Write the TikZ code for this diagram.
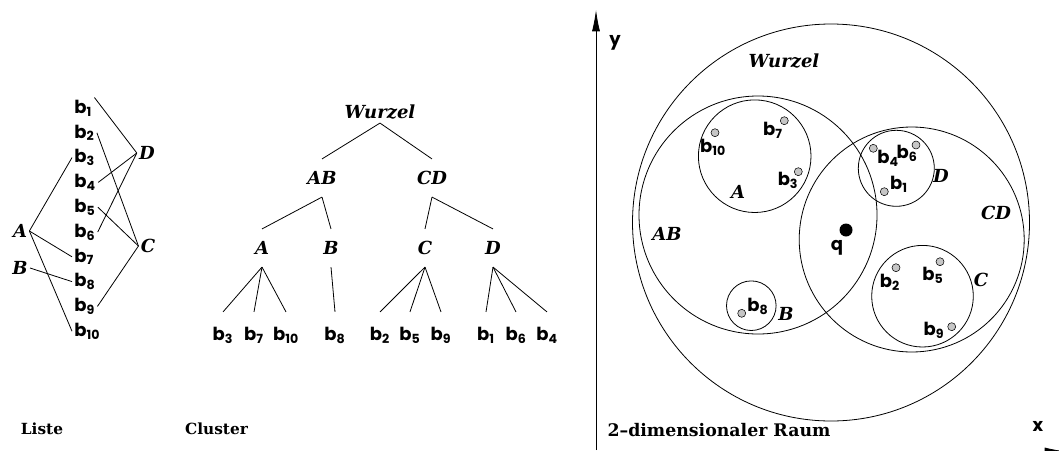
\documentclass[tikz,border=0pt]{standalone}
\usepackage{fontspec}
\newfontfamily\pfont{Poppins}
\newfontfamily\sfont{DejaVu Serif}
\usetikzlibrary{arrows.meta}
\newcommand{\bb}[1]{b\textsubscript{#1}}
\tikzset{
  blatt/.style={font=\pfont\bfseries\fontsize{13.5}{15}\selectfont, inner sep=1.5pt},
  marke/.style={font=\sfont\bfseries\itshape\fontsize{13.5}{15}\selectfont, inner sep=1.5pt},
  knoten/.style={marke, inner sep=0pt, minimum height=28pt},
  titel/.style={font=\sfont\bfseries\fontsize{11.5}{14}\selectfont, inner sep=0pt},
  punkt/.style={fill=gray!45, draw=black, line width=0.4pt},
  achse/.style={-{Latex[length=16pt, width=6pt]}, line width=0.6pt},
}
\begin{document}
\begin{tikzpicture}[x=0.75pt, y=-0.75pt, line width=0.6pt]
  \useasboundingbox (0,0) rectangle (1059,450);

  % Liste
  \node[blatt, anchor=west] (l1) at (72,108) {\bb{1}};
  \node[blatt, anchor=west] (l2) at (72,132.8) {\bb{2}};
  \node[blatt, anchor=west] (l3) at (72,157.6) {\bb{3}};
  \node[blatt, anchor=west] (l4) at (72,182.4) {\bb{4}};
  \node[blatt, anchor=west] (l5) at (72,207.2) {\bb{5}};
  \node[blatt, anchor=west] (l6) at (72,232) {\bb{6}};
  \node[blatt, anchor=west] (l7) at (72,256.8) {\bb{7}};
  \node[blatt, anchor=west] (l8) at (72,281.6) {\bb{8}};
  \node[blatt, anchor=west] (l9) at (72,306.4) {\bb{9}};
  \node[blatt, anchor=west] (l10) at (72,331.2) {\bb{10}};

  \node[marke] (lA) at (20,231) {A};
  \node[marke] (lB) at (20,268) {B};
  \node[marke] (lD) at (147,153) {D};
  \node[marke] (lC) at (148,246) {C};

  \draw (lA.east) -- (l3.west);
  \draw (lA.east) -- (l7.west);
  \draw (lA.east) -- (l10.west);
  \draw (lB.east) -- (l8.west);
  \draw (lD.west) -- (l1.north east);
  \draw (lD.west) -- (l4.east);
  \draw (lD.west) -- (l6.east);
  \draw (lC.west) -- (l2.east);
  \draw (lC.west) -- (l5.east);
  \draw (lC.west) -- (l9.east);

  \node[titel] (liste) at (42,429) {Liste};

  % Cluster
  \node[marke, inner sep=0pt, minimum height=16pt] (wurzel) at (380,112) {Wurzel};
  \node[knoten] (ab) at (322,178) {AB};
  \node[knoten] (cd) at (432,178) {CD};
  \node[knoten] (ka) at (262,248) {A};
  \node[knoten] (kb) at (331,248) {B};
  \node[knoten] (kc) at (425,248) {C};
  \node[knoten] (kd) at (493,248) {D};

  \node[blatt, minimum height=34pt] (c3) at (223,335) {\bb{3}};
  \node[blatt, minimum height=34pt] (c7) at (254,335) {\bb{7}};
  \node[blatt, minimum height=34pt] (c10) at (286,335) {\bb{10}};
  \node[blatt, minimum height=34pt] (c8) at (335,335) {\bb{8}};
  \node[blatt, minimum height=34pt] (c2) at (380,335) {\bb{2}};
  \node[blatt, minimum height=34pt] (c5) at (410,335) {\bb{5}};
  \node[blatt, minimum height=34pt] (c9) at (441,335) {\bb{9}};
  \node[blatt, minimum height=34pt] (c1) at (486,335) {\bb{1}};
  \node[blatt, minimum height=34pt] (c6) at (516,335) {\bb{6}};
  \node[blatt, minimum height=34pt] (c4) at (547,335) {\bb{4}};

  \draw (wurzel.south) -- (ab.north);
  \draw (wurzel.south) -- (cd.north);
  \draw (ab.south) -- (ka.north);
  \draw (ab.south) -- (kb.north);
  \draw (cd.south) -- (kc.north);
  \draw (cd.south) -- (kd.north);
  \draw (ka.south) -- (c3.north);
  \draw (ka.south) -- (c7.north);
  \draw (ka.south) -- (c10.north);
  \draw (kb.south) -- (c8.north);
  \draw (kc.south) -- (c2.north);
  \draw (kc.south) -- (c5.north);
  \draw (kc.south) -- (c9.north);
  \draw (kd.south) -- (c1.north);
  \draw (kd.south) -- (c6.north);
  \draw (kd.south) -- (c4.north);

  \node[titel] (cluster) at (216.5,429) {Cluster};

  % 2-dimensionaler Raum
  \coordinate (yfuss) at (596,450);
  \coordinate (yspitze) at (596,10);
  \coordinate (xfuss) at (596,451.5);
  \coordinate (xspitze) at (1066,451.5);
  \draw[achse] (yfuss) -- (yspitze);
  \draw[achse] (xfuss) -- (xspitze);
  \node[blatt] (ylab) at (615,43) {y};
  \node[blatt] (xlab) at (1038,426) {x};

  \draw (831,222.5) circle[radius=198.5];
  \draw (758,215) circle[radius=119];
  \draw (911.7,239.5) circle[radius=112.5];
  \draw (754.7,156.2) circle[radius=56.3];
  \draw (751.3,305.7) circle[radius=24.8];
  \draw (896.3,168.3) circle[radius=38];
  \draw (922.5,296.2) circle[radius=50.8];

  \node[marke] (rw) at (784,61) {Wurzel};
  \node[marke] (rab) at (667,234) {AB};
  \node[marke] (ra) at (738,192) {A};
  \node[marke] (rb) at (786,314) {B};
  \node[marke] (rd) at (941,176) {D};
  \node[marke] (rcd) at (996,213) {CD};
  \node[marke] (rc) at (981,280) {C};

  \filldraw[punkt] (715,132.7) circle[radius=4];
  \filldraw[punkt] (784.3,120.7) circle[radius=4];
  \filldraw[punkt] (798.3,171.7) circle[radius=4];
  \filldraw[punkt] (873.3,148.3) circle[radius=4];
  \filldraw[punkt] (916,145) circle[radius=4];
  \filldraw[punkt] (884.3,191.7) circle[radius=4];
  \filldraw[punkt] (896,267.7) circle[radius=4];
  \filldraw[punkt] (940,261.7) circle[radius=4];
  \filldraw[punkt] (951.7,326.7) circle[radius=4];
  \filldraw[punkt] (741.7,313.3) circle[radius=4];
  \fill (846,230) circle[radius=6.5];

  \node[blatt] (r10) at (713,147) {\bb{10}};
  \node[blatt] (r7) at (773,130) {\bb{7}};
  \node[blatt] (r3) at (788,180) {\bb{3}};
  \node[blatt] (r4) at (888,158) {\bb{4}};
  \node[blatt] (r6) at (907,153) {\bb{6}};
  \node[blatt] (r1) at (899,184) {\bb{1}};
  \node[blatt] (r2) at (890,282) {\bb{2}};
  \node[blatt] (r5) at (933,275) {\bb{5}};
  \node[blatt] (r9) at (934,330) {\bb{9}};
  \node[blatt] (r8) at (758,306) {\bb{8}};
  \node[blatt] (rq) at (837,248) {q};

  \node[titel, font=\sfont\bfseries\fontsize{13}{15}\selectfont] (raum) at (719,430) {2–dimensionaler Raum};
\end{tikzpicture}
\end{document}
